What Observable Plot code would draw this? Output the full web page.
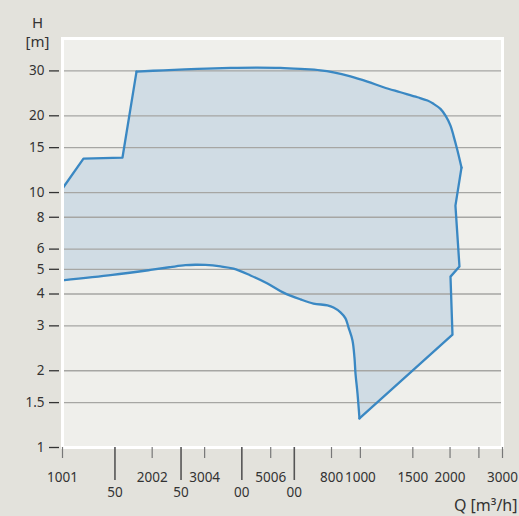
<!DOCTYPE html>
<html>
<head>
<meta charset="utf-8">
<script src="https://cdn.jsdelivr.net/npm/d3@7"></script>
<script src="https://cdn.jsdelivr.net/npm/@observablehq/plot@0.6"></script>
<style>
html, body { margin: 0; padding: 0; background: #e3e2dc; }
#chart svg { display: block; }
</style>
</head>
<body>
<div id="chart"></div>
<script>
// Outline of the operating field (Q in m³/h, H in m), clockwise from top-left
const outlineQ = [100, 117.6, 159, 177.2, 218.3, 284, 366.4, 451.3, 539.2, 629.5, 734.7, 812.4, 926.2, 1056, 1196, 1363, 1555, 1680, 1760, 1857, 1931, 2007, 2054, 2118, 2185,
                  2085, 2151, 2007, 2038, 993,
                  978, 963, 955.4, 940.8, 912.1, 891.2, 857.5, 812.4, 775.5, 695.9, 629.5, 551.9, 487.7, 427.6, 375, 339.2, 302, 279.6, 258.8, 230.4, 197.4, 147.2, 100];
const outlineH = [10.37, 13.59, 13.72, 29.82, 30.17, 30.55, 30.83, 30.92, 30.83, 30.55, 30.17, 29.63, 28.58, 27.25, 25.88, 24.74, 23.65, 22.95, 22.28, 21.29, 20.04, 18.31, 16.73, 14.61, 12.53,
                  8.89, 5.13, 4.68, 2.77, 1.30,
                  1.63, 1.95, 2.25, 2.63, 2.96, 3.21, 3.39, 3.54, 3.61, 3.67, 3.81, 4.05, 4.40, 4.73, 5.03, 5.13, 5.20, 5.21, 5.19, 5.10, 4.97, 4.75, 4.52];
// which stretches of the outline are straight (polyline) and which are smooth curves: [start index, end index]
const straightRuns = [[0, 3], [24, 29]];
const curvedRuns = [[3, 24], [29, 52]];

const yTicks = [1, 1.5, 2, 3, 4, 5, 6, 8, 10, 15, 20, 30];
const yTickLabels = ["1", "1.5", "2", "3", "4", "5", "6", "8", "10", "15", "20", "30"];
const xTicksTop = [100, 200, 300, 500, 800, 1000, 1500, 2000, 2500, 3000];
const xTopLabels = ["1001", "2002", "3004", "5006", "800", "1000", "1500", "2000", "", "3000"];
const xTicksBottom = [150, 250, 400, 600];
const xBottomLabels = ["50", "50", "00", "00"];

const pts = outlineQ.map((q, i) => ({q, h: outlineH[i]}));
const runs = (list) => list.flatMap(([a, b], k) => pts.slice(a, b + 1).map(p => ({...p, run: k})));
const straightPts = runs(straightRuns);
const curvedPts = runs(curvedRuns);
const yMap = new Map(yTicks.map((d, i) => [d, yTickLabels[i]]));
const xTopMap = new Map(xTicksTop.map((d, i) => [d, xTopLabels[i]]));
const xBotMap = new Map(xTicksBottom.map((d, i) => [d, xBottomLabels[i]]));

const lineStyle = {stroke: "#3a88c3", strokeWidth: 2.3, strokeLinejoin: "round", strokeLinecap: "round", fill: "none"};

const chart = Plot.plot({
  width: 519,
  height: 516,
  marginLeft: 62,
  marginRight: 17,
  marginTop: 38,
  marginBottom: 69,
  style: {background: "transparent", fontFamily: "'Noto Sans', sans-serif", fontSize: "13.5px", color: "#333"},
  x: {type: "log", domain: [100, 3000]},
  y: {type: "log", domain: [1, 40.2]},
  marks: [
    Plot.frame({fill: "#efefeb", stroke: null}),
    Plot.line(pts, {x: "q", y: "h", fill: "#d0dce4", stroke: null, curve: "linear"}),
    Plot.gridY(yTicks, {stroke: "#a6a6a3", strokeOpacity: 1, strokeWidth: 1.3}),
    Plot.line(straightPts, {x: "q", y: "h", z: "run", curve: "linear", ...lineStyle}),
    Plot.line(curvedPts, {x: "q", y: "h", z: "run", curve: "catmull-rom", ...lineStyle}),
    Plot.frame({stroke: "#ffffff", strokeWidth: 3, strokeOpacity: 1}),
    Plot.axisY(yTicks, {ticks: Infinity, tickSize: 10, tickPadding: 5, dx: -3, tickFormat: d => yMap.get(d), label: null, stroke: "#333", strokeWidth: 1.3, fill: "#333", fontSize: 13.5}),
    Plot.axisX(xTicksTop, {ticks: Infinity, tickSize: 11, tickPadding: 14, tickFormat: d => xTopMap.get(d), label: null, stroke: "#777", strokeWidth: 1.2, fill: "#333", fontSize: 13.5}),
    Plot.axisX(xTicksBottom, {ticks: Infinity, tickSize: 33, tickPadding: 7, tickFormat: d => xBotMap.get(d), label: null, stroke: "#555", strokeWidth: 1.6, fill: "#333", fontSize: 13.5}),
    Plot.text(["H\n[m]"], {frameAnchor: "top-left", dx: -25, dy: -7.5, lineAnchor: "middle", textAnchor: "middle", fontSize: 15, fill: "#333", lineHeight: 1.3}),
    Plot.text(["Q [m³/h]"], {frameAnchor: "bottom-right", dx: 15, dy: 58, textAnchor: "end", lineAnchor: "middle", fontSize: 16, fill: "#333"})
  ]
});
document.getElementById("chart").appendChild(chart);
</script>
</body>
</html>
